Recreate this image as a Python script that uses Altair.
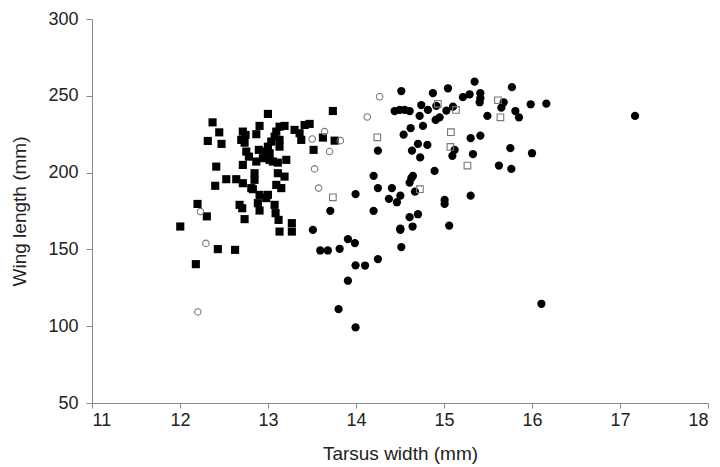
import altair as alt
import pandas as pd

# Filled squares
fsq_x = [12.37, 12.446, 12.316, 12.472, 12.412, 12.40, 12.526, 12.639, 12.199, 12.305,
         12.003, 12.18, 12.43, 12.626, 13.131, 13.271, 13.271, 13.12, 13.086, 13.075,
         12.734, 12.677, 12.707, 12.885, 12.904, 12.828, 12.904, 12.999, 12.98, 13.094,
         13.151, 12.81, 12.714, 12.847, 12.847, 12.714, 13.112, 13.188, 12.999, 12.904,
         12.714, 12.745, 12.867, 12.696, 12.734, 13.131, 13.188, 13.094, 13.075, 13.037,
         12.999, 12.98, 13.302, 13.359, 13.378, 13.416, 12.753, 12.783, 12.896, 13.018,
         12.942, 13.055, 13.112, 13.208, 13.473, 13.624, 13.757, 13.737, 13.518, 13.131,
         12.867, 13.018, 13.131]
fsq_y = [232.7, 226.2, 220.6, 218.7, 203.9, 191.4, 195.7, 195.7, 179.6, 171.5,
         164.9, 140.4, 150.2, 149.7, 161.6, 161.6, 167.1, 169.2, 173.6, 179.0,
         169.7, 179.0, 176.8, 180.1, 175.3, 189.2, 185.5, 185.5, 183.4, 192.0,
         189.9, 189.9, 193.1, 195.3, 199.6, 205.0, 199.6, 197.4, 238.2, 230.4,
         226.7, 224.5, 225.0, 221.3, 219.5, 229.9, 230.4, 226.7, 223.4, 220.2,
         216.9, 213.7, 227.8, 225.6, 221.3, 231.0, 213.7, 210.4, 214.8, 212.6,
         209.4, 207.2, 206.5, 208.3, 231.7, 222.8, 220.8, 240.1, 214.8, 221.3,
         207.2, 208.3, 216.9]

# Filled circles
fci_x = [15.348, 14.515, 14.874, 15.045, 15.772, 15.215, 15.291, 15.413, 15.413, 15.405,
         15.678, 15.652, 15.811, 15.852, 15.985, 16.163, 17.171, 14.439, 14.496, 14.553,
         14.61, 14.742, 14.723, 14.817, 14.913, 14.905, 14.95, 15.027, 15.102, 15.493,
         14.621, 14.761, 14.541, 14.704, 14.811, 14.636, 14.249, 14.729, 15.121, 15.095,
         15.329, 15.303, 15.413, 15.754, 16.0, 15.624, 15.765, 14.893, 14.2, 14.647,
         14.629, 14.609, 14.249, 14.408, 14.67, 14.374, 14.465, 14.504, 15.007, 15.007,
         15.303, 14.2, 14.609, 14.704, 14.504, 14.643, 15.059, 13.995, 13.708, 13.51,
         13.908, 13.987, 13.594, 13.68, 13.814, 13.995, 14.103, 14.249, 14.515, 14.504,
         13.908, 13.802, 13.995, 16.107]
fci_y = [259.2, 253.1, 251.7, 254.9, 255.6, 249.1, 251.0, 251.7, 248.4, 245.8,
         245.8, 242.3, 240.1, 236.0, 244.5, 244.9, 236.9, 240.1, 240.8, 240.8,
         240.1, 244.0, 236.9, 240.8, 243.4, 234.3, 236.0, 240.3, 242.9, 236.9,
         228.9, 230.4, 224.7, 218.7, 218.0, 214.3, 214.3, 209.9, 214.8, 210.9,
         212.0, 222.4, 224.1, 215.9, 212.6, 204.6, 202.4, 201.1, 197.9, 197.9,
         196.4, 193.5, 189.9, 189.9, 187.6, 182.9, 180.7, 185.0, 182.2, 179.6,
         185.0, 175.1, 171.0, 172.9, 163.6, 164.9, 165.5, 186.0, 175.1, 162.7,
         156.7, 154.1, 149.3, 149.3, 150.4, 139.6, 139.5, 143.7, 151.5, 162.7,
         129.6, 111.1, 99.2, 114.6]

# Open circles
oci_x = [12.203, 12.294, 12.233, 13.503, 13.643, 13.7, 13.822, 13.529, 13.575, 14.128, 14.268]
oci_y = [109.3, 153.9, 174.6, 221.9, 226.7, 213.7, 220.8, 202.4, 189.9, 236.2, 249.4]

# Open squares
osq_x = [13.737, 14.242, 14.93, 15.136, 15.613, 15.641, 15.078, 15.073, 15.266, 14.726]
osq_y = [183.9, 223.0, 244.8, 240.8, 247.1, 236.0, 226.3, 216.7, 204.6, 189.2]

x_ticks = [11, 12, 13, 14, 15, 16, 17, 18]
y_ticks = [50, 100, 150, 200, 250, 300]

FONT = "Liberation Sans"

xenc = alt.X("x:Q", scale=alt.Scale(domain=[11, 18], nice=False, zero=False),
             axis=alt.Axis(values=x_ticks, title="Tarsus width (mm)", grid=False,
                           domainColor="#888888", tickColor="#888888", tickSize=5,
                           labelFontSize=18, titleFontSize=19, labelColor="#222222",
                           titleColor="#222222", labelFont=FONT, titleFont=FONT,
                           titleFontWeight="normal", labelPadding=3, titlePadding=15))
yenc = alt.Y("y:Q", scale=alt.Scale(domain=[50, 300], nice=False, zero=False),
             axis=alt.Axis(values=y_ticks, title="Wing length (mm)", grid=False,
                           domainColor="#888888", tickColor="#888888", tickSize=6,
                           labelFontSize=18, titleFontSize=19, labelColor="#222222",
                           titleColor="#222222", labelFont=FONT, titleFont=FONT,
                           titleFontWeight="normal", labelPadding=8, titlePadding=18))


def layer(xs, ys, shape, filled, size, color, sw=1.0):
    df = pd.DataFrame({"x": xs, "y": ys})
    if filled:
        m = alt.Chart(df).mark_point(shape=shape, filled=True, size=size, color=color, opacity=1)
    else:
        m = alt.Chart(df).mark_point(shape=shape, filled=False, size=size, color=color,
                                     strokeWidth=sw, opacity=1)
    return m.encode(x=xenc, y=yenc)


chart = alt.layer(
    layer(fsq_x, fsq_y, "square", True, 66, "#000000"),
    layer(fci_x, fci_y, "circle", True, 68, "#000000"),
    layer(oci_x, oci_y, "circle", False, 42, "#777777", 1.1),
    layer(osq_x, osq_y, "square", False, 44, "#777777", 1.1),
).properties(
    width=616, height=384,
    autosize=alt.AutoSizeParams(type="none"),
    padding={"left": 84, "top": 11, "right": 4, "bottom": 62},
).configure_view(stroke=None)

chart.save("out.html", embed_options={"renderer": "svg", "actions": False})
